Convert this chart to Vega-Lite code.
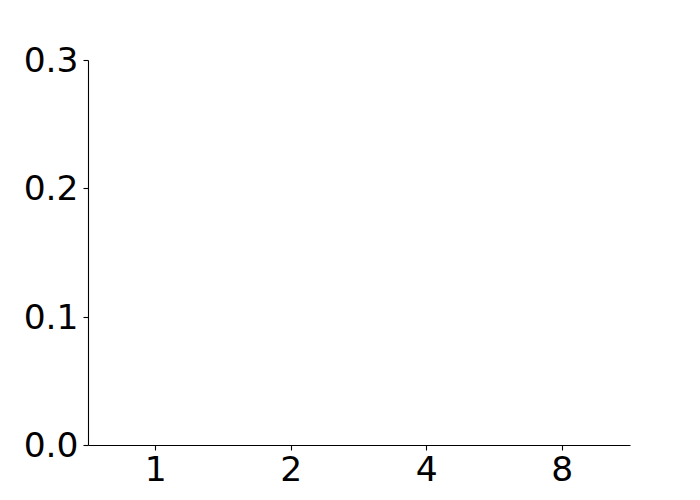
{
  "$schema": "https://vega.github.io/schema/vega-lite/v6.json",
  "autosize": {"type": "none"},
  "padding": {"left": 88, "top": 60, "right": 70, "bottom": 55},
  "width": 542,
  "height": 385,
  "background": "white",
  "config": {
    "view": {"stroke": null},
    "font": "DejaVu Sans",
    "axis": {
      "labelFont": "DejaVu Sans",
      "labelFontSize": 34.5,
      "labelColor": "black",
      "domainColor": "black",
      "domainWidth": 1.1,
      "tickColor": "black",
      "tickWidth": 1.1,
      "tickSize": 5,
      "grid": false,
      "title": null
    }
  },
  "data": {
    "values": [
      {"threads": "1", "value": 0},
      {"threads": "2", "value": 0},
      {"threads": "4", "value": 0},
      {"threads": "8", "value": 0}
    ]
  },
  "mark": {"type": "bar", "opacity": 0},
  "encoding": {
    "x": {
      "field": "threads",
      "type": "ordinal",
      "sort": ["1", "2", "4", "8"],
      "scale": {"paddingInner": 0, "paddingOuter": 0},
      "axis": {"labelAngle": 0, "labelPadding": 3, "title": null}
    },
    "y": {
      "field": "value",
      "type": "quantitative",
      "scale": {"domain": [0, 0.3], "nice": false},
      "axis": {"values": [0, 0.1, 0.2, 0.3], "format": ".1f", "labelPadding": 5, "labelOffset": 1.5, "title": null}
    }
  }
}
